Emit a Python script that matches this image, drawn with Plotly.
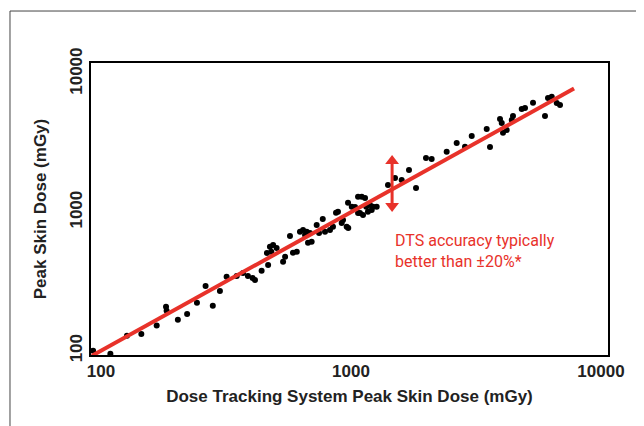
import plotly.graph_objects as go

# Dose Tracking System peak skin dose (mGy) vs measured peak skin dose (mGy)
dts_dose = [93, 109, 127, 145, 167, 182, 183, 203, 221, 242, 262, 280, 299, 318, 349, 370,
            387, 404, 413, 439, 466, 461, 474, 488, 504, 480, 535, 545, 570, 586, 607, 625,
            643, 665, 685, 655, 673, 696, 729, 745, 771, 787, 824, 847, 871, 887, 918, 961,
            973, 1007, 1038, 1067, 1067, 1104, 1138, 1086, 1117, 1169, 1210, 1225, 1267, 1191,
            1151, 929, 975, 1406, 1500, 1595, 1706, 1820, 1995, 2102, 2414, 2647, 2858, 3040,
            3490, 3597, 3945, 4008, 4055, 4197, 4395, 4446, 4818, 4966, 5346, 5970, 6137, 6353,
            6652, 6855]
measured_dose = [100, 95, 128, 132, 152, 208, 194, 167, 184, 222, 293, 211, 270, 342, 346, 364,
                 346, 335, 324, 378, 416, 508, 563, 580, 552, 519, 439, 477, 673, 510, 519, 723,
                 744, 723, 708, 684, 602, 612, 809, 708, 893, 723, 744, 786, 992, 1009, 836, 786,
                 1171, 1096, 1090, 1294, 986, 1294, 1267, 986, 955, 1009, 1037, 1096, 1096, 1127,
                 1096, 879, 770, 1572, 1766, 1708, 2018, 1496, 2462, 2422, 2734, 3161, 2971, 3549,
                 3989, 2956, 4709, 4405, 3750, 3923, 4633, 4951, 5560, 5654, 6177, 4951, 6680, 6823,
                 6141, 5943]

unity_x = [92, 7800]
unity_y = [92, 7800]

arrow_x = [1460, 1460]
arrow_y = [1110, 2340]

tick_vals = [100, 1000, 10000]
tick_text = ["100", "1000", "10000"]

x_title = "Dose Tracking System Peak Skin Dose (mGy)"
y_title = "Peak Skin Dose (mGy)"
note_text = "DTS accuracy typically<br>better than \u00b120%*"

RED = "#e8322a"
DARK = "#222222"

fig = go.Figure()
fig.add_trace(go.Scatter(x=dts_dose, y=measured_dose, mode="markers",
                         marker=dict(color="black", size=6), showlegend=False))
fig.add_trace(go.Scatter(x=unity_x, y=unity_y, mode="lines",
                         line=dict(color=RED, width=4), showlegend=False))
fig.add_trace(go.Scatter(x=arrow_x, y=arrow_y, mode="lines+markers",
                         line=dict(color=RED, width=3),
                         marker=dict(color=RED, size=12, symbol=["triangle-down", "triangle-up"]),
                         showlegend=False, cliponaxis=False))

axis_font = dict(family="Liberation Sans, Arial, sans-serif", size=17, color=DARK)
tick_font = dict(family="Liberation Sans, Arial, sans-serif", size=17, color=DARK, weight="bold")
fig.update_xaxes(type="log", range=[1.96, 4.028], tickvals=tick_vals, ticktext=tick_text,
                 showgrid=False, zeroline=False, showline=True, mirror=True,
                 linecolor="black", linewidth=2, ticks="", ticklabelstandoff=0,
                 tickfont=tick_font,
                 title=dict(text="<b>" + x_title + "</b>", font=axis_font, standoff=10))
fig.update_yaxes(type="log", range=[1.969, 4.077], tickvals=tick_vals, ticktext=tick_text,
                 showgrid=False, zeroline=False, showline=True, mirror=True,
                 linecolor="black", linewidth=2, ticks="", tickangle=-90, ticklabelstandoff=0,
                 tickfont=tick_font,
                 title=dict(text="<b>" + y_title + "</b>", font=axis_font, standoff=16))

fig.add_annotation(x=0.584, y=0.356, xref="paper", yref="paper", text=note_text,
                   showarrow=False, xanchor="left", yanchor="middle", align="left",
                   font=dict(family="Roboto, sans-serif", size=16, color=RED))

# outer frame of the figure panel
fig.add_shape(type="rect", xref="paper", yref="paper", x0=-0.1567, y0=-0.5, x1=1.3, y1=1.178,
              line=dict(color="#444444", width=1), fillcolor="rgba(0,0,0,0)", layer="below")

# the page adds an 8px body margin, so the figure is 8px smaller to fit the window
fig.update_layout(width=636, height=418, margin=dict(l=83, r=36, t=55, b=71),
                  plot_bgcolor="white", paper_bgcolor="white")

fig.write_html("out.html")
